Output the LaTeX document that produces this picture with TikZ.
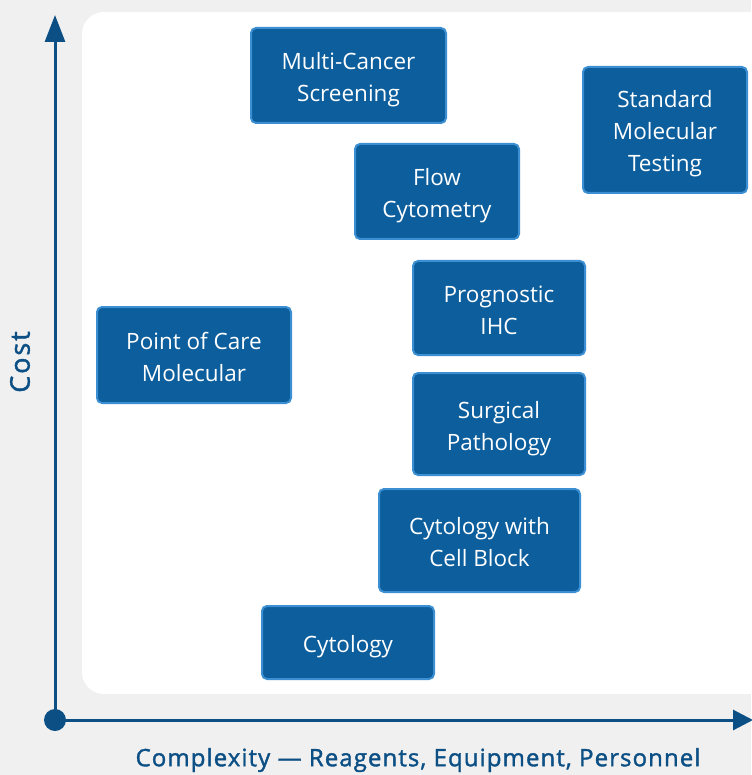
\documentclass[tikz,border=0pt]{standalone}
\usepackage{fontspec}
\setmainfont{Open Sans}
\usetikzlibrary{arrows.meta}

\definecolor{pagegray}{HTML}{F0F0F0}
\definecolor{boxblue}{HTML}{0C5E9D}
\definecolor{boxedge}{HTML}{3B8FD2}
\definecolor{axisblue}{HTML}{0B4F85}

% strut that opens the first line of a box
\newcommand{\firstline}{\rule{0pt}{28pt}}

\begin{document}
\begin{tikzpicture}[
    x=1pt, y=-1pt,
    test_box/.style={draw=boxedge, fill=boxblue, line width=2pt, rounded corners=5pt,
      text=white, align=center, font=\fontsize{22.5}{32}\selectfont, inner sep=0pt,
      execute at end node={\rule[-8pt]{0pt}{8pt}}},
    axis_line/.style={draw=axisblue, line width=3pt},
    axis_label/.style={text=axisblue, inner sep=0pt,
      font=\fontsize{24}{28}\selectfont\addfontfeatures{LetterSpace=4.5,FakeBold=1.5}},
    ]

    % --- Page and white panel ---
    \fill[pagegray] (0,0) rectangle (751,775);
    \useasboundingbox (0,0) rectangle (751,775);
    \fill[white, rounded corners=22pt] (82,12) rectangle (770,694);

    % --- Axes ---
    \coordinate (origin) at (55,720);
    \coordinate (ytip) at (55,15);
    \coordinate (xtip) at (753,720);
    \draw[axis_line, -{Triangle[width=20pt,length=27pt]}] (origin) -- (ytip);
    \draw[axis_line, -{Triangle[width=20pt,length=20pt]}] (origin) -- (xtip);
    \fill[axisblue] (origin) circle (11pt);

    % --- Axis labels ---
    \node[axis_label, rotate=90, font=\fontsize{27}{30}\selectfont\addfontfeatures{LetterSpace=7,FakeBold=1.5}]
      (costlabel) at (20,362) {Cost};
    \node[axis_label] (complexlabel) at (418,760) {Complexity --- Reagents, Equipment, Personnel};

    % --- Tests ---
    \node[test_box, minimum width=195pt, minimum height=95pt] (multicancer) at (348.5,75.5)
      {\firstline Multi-Cancer\\Screening};
    \node[test_box, minimum width=164pt, minimum height=126pt] (stdmolecular) at (665,130)
      {\firstline Standard\\Molecular\\Testing};
    \node[test_box, minimum width=164pt, minimum height=95pt] (flowcyto) at (437,191.5)
      {\firstline Flow\\Cytometry};
    \node[test_box, minimum width=172pt, minimum height=94pt] (prognostic) at (499,308)
      {\firstline Prognostic\\IHC};
    \node[test_box, minimum width=194pt, minimum height=96pt] (pointofcare) at (194,355)
      {\firstline Point of Care\\Molecular};
    \node[test_box, minimum width=172pt, minimum height=102pt] (surgical) at (499,424)
      {\firstline Surgical\\Pathology};
    \node[test_box, minimum width=201pt, minimum height=103pt] (cellblock) at (479.5,540.5)
      {\firstline Cytology with\\Cell Block};
    \node[test_box, minimum width=172pt, minimum height=73pt] (cytology) at (348,642.5)
      {\firstline Cytology};

\end{tikzpicture}
\end{document}
